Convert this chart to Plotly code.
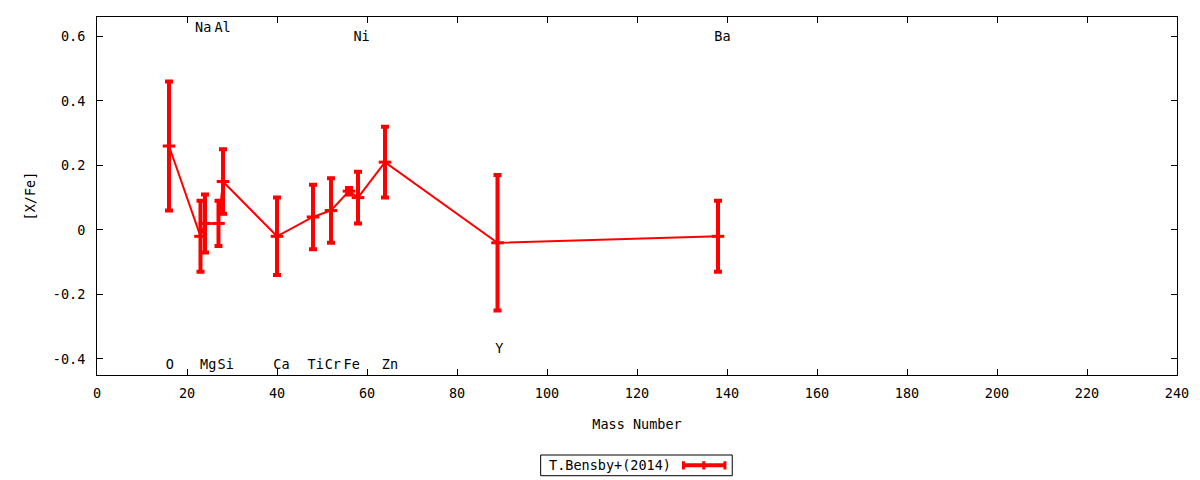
import plotly.graph_objects as go

# T.Bensby+(2014) abundances
masa = [16, 23, 24, 27, 28, 40, 48, 52, 56, 58, 64, 89, 138]
x_fe = [0.26, -0.02, 0.02, 0.02, 0.15, -0.02, 0.04, 0.06, 0.12, 0.10, 0.21, -0.04, -0.02]
error = [0.20, 0.11, 0.09, 0.07, 0.10, 0.12, 0.10, 0.10, 0.01, 0.08, 0.11, 0.21, 0.11]

# etiquetas de elementos
elementos = ["O", "Na", "Mg", "Al", "Si", "Ca", "Ti", "Cr", "Fe", "Ni", "Zn", "Y", "Ba"]
elem_x = [16.2, 23.6, 24.7, 27.9, 28.6, 41.0, 48.6, 52.4, 56.6, 58.8, 65.1, 89.4, 139.0]
elem_y = [-0.42, 0.625, -0.42, 0.625, -0.42, -0.42, -0.42, -0.42, -0.42, 0.595, -0.42, -0.37, 0.595]

xticks = list(range(0, 241, 20))
yticks = [-0.4, -0.2, 0, 0.2, 0.4, 0.6]
yticks_txt = ["-0.4", "-0.2", "0", "0.2", "0.4", "0.6"]

fuente = dict(family="DejaVu Sans Mono", size=13.5, color="black")
rojo = "#ff0000"

fig = go.Figure()

fig.add_trace(go.Scatter(
    x=masa, y=x_fe, mode="lines+markers",
    line=dict(color=rojo, width=2),
    marker=dict(symbol="line-ew", size=9, color=rojo, line=dict(width=3, color=rojo)),
    error_y=dict(type="data", array=error, visible=True, color=rojo, thickness=4, width=4),
    showlegend=False, name="T.Bensby+(2014)"
))

fig.add_trace(go.Scatter(
    x=elem_x, y=elem_y, mode="text", text=elementos,
    textfont=fuente, textposition="middle center",
    showlegend=False, hoverinfo="skip"
))

# leyenda estilo gnuplot (texto a la izquierda, muestra a la derecha)
fig.add_shape(type="rect", xref="paper", yref="paper",
              x0=0.4108, x1=0.5882, y0=-0.2813, y1=-0.2235,
              line=dict(color="black", width=1))
fig.add_annotation(text="T.Bensby+(2014)", xref="paper", yref="paper",
                   x=0.5333, y=-0.2524, xanchor="right", yanchor="middle",
                   showarrow=False, font=fuente)
ly = -0.2524
cap = 0.0115
fig.add_shape(type="line", xref="paper", yref="paper", x0=0.5423, x1=0.5821, y0=ly, y1=ly,
              line=dict(color=rojo, width=4))
for cx in [0.5430, 0.5618, 0.5814]:
    fig.add_shape(type="line", xref="paper", yref="paper", x0=cx, x1=cx, y0=ly - cap, y1=ly + cap,
                  line=dict(color=rojo, width=3))

eje = dict(showline=True, linecolor="black", linewidth=1, mirror="ticks",
           ticks="inside", ticklen=6, tickcolor="black", showgrid=False,
           zeroline=False, tickfont=fuente)

# la pagina tiene 8px de margen, se compensa con el tamaño
fig.update_layout(
    width=1192, height=472,
    plot_bgcolor="white", paper_bgcolor="white",
    margin=dict(l=89, r=23, t=9, b=105),
    xaxis=dict(eje, range=[0, 240], tickvals=xticks, ticklabelstandoff=6,
               title=dict(text="Mass Number", font=fuente, standoff=19)),
    yaxis=dict(eje, range=[-0.45, 0.66], tickvals=yticks, ticktext=yticks_txt,
               ticklabelstandoff=8,
               title=dict(text="[X/Fe]", font=fuente, standoff=14)),
)

fig.write_html("out.html")
